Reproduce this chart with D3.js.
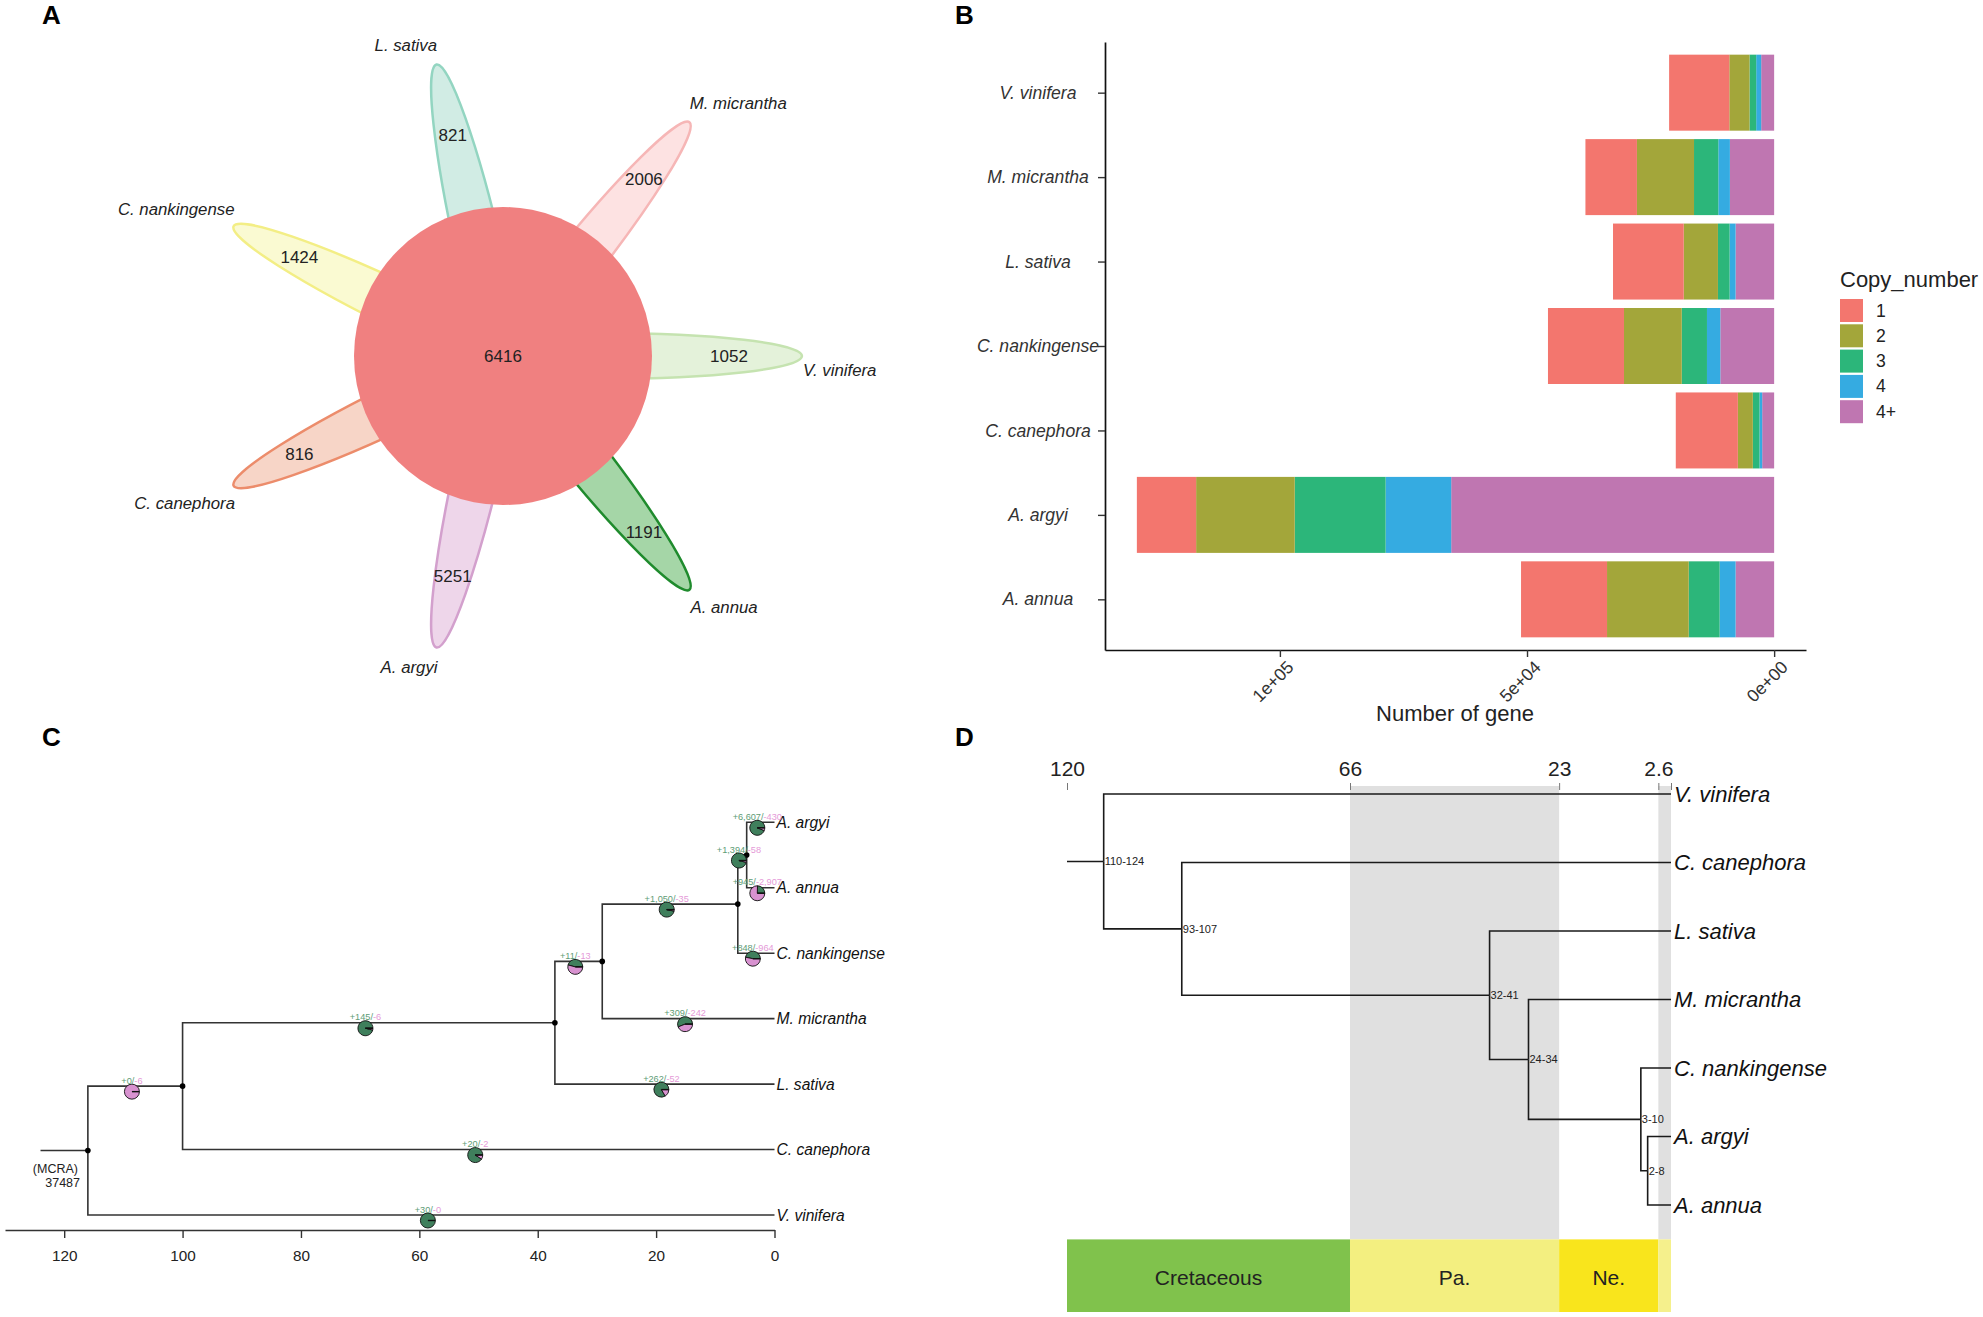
<!DOCTYPE html>
<html>
<head>
<meta charset="utf-8">
<script src="https://cdn.jsdelivr.net/npm/d3@7"></script>
<style>
  body { margin: 0; background: #fff; }
  svg { display: block; font-family: "Liberation Sans", Arial, sans-serif; }
</style>
</head>
<body>
<div id="chart"></div>
<script>
// ---- data ----
const species = ["V. vinifera", "M. micrantha", "L. sativa", "C. nankingense", "C. canephora", "A. argyi", "A. annua"];

// A: flower plot
const uniqueGenes = [1052, 2006, 821, 1424, 816, 5251, 1191];
const coreGenes = 6416;

// B: copy number per species
const copyLevels = ["1", "2", "3", "4", "4+"];
const copy1  = [12180, 10420, 14310, 15380, 12560, 11990, 17400];
const copy2  = [4090, 11550, 6920, 11690, 3030, 19950, 16530];
const copy3  = [1350, 4920, 2360, 5100, 1350, 18390, 6250];
const copy4  = [1010, 2340, 1210, 2700, 540, 13270, 3230];
const copy4p = [2620, 8950, 7800, 10890, 2420, 65340, 7800];
const xTicksB = [0, 50000, 100000];

// C: gene family expansion / contraction tree
const tipOrderC = ["A. argyi", "A. annua", "C. nankingense", "M. micrantha", "L. sativa", "C. canephora", "V. vinifera"];
const nodeAgeC = { root: 116, n1: 100, n2: 37.1, n3: 29.1, n4: 6.2, n5: 4.7 };
const edgesC = [["root", "V. vinifera"], ["root", "n1"], ["n1", "C. canephora"], ["n1", "n2"],
  ["n2", "L. sativa"], ["n2", "n3"], ["n3", "M. micrantha"], ["n3", "n4"],
  ["n4", "C. nankingense"], ["n4", "n5"], ["n5", "A. argyi"], ["n5", "A. annua"]];
const gainsC  = [30, 0, 20, 145, 262, 11, 309, 1050, 848, 1394, 6607, 945];
const lossesC = [0, 6, 2, 6, 52, 13, 242, 35, 964, 58, 430, 2907];
const mrcaC = 37487;
const xTicksC = [120, 100, 80, 60, 40, 20, 0];

// D: divergence time tree
const tipOrderD = ["V. vinifera", "C. canephora", "L. sativa", "M. micrantha", "C. nankingense", "A. argyi", "A. annua"];
const nodeAgeD = { root: 113, n2: 98.1, n3: 37.3, n4: 29.3, n5: 6.2, n6: 4.8 };
const nodeRangeD = { root: "110-124", n2: "93-107", n3: "32-41", n4: "24-34", n5: "3-10", n6: "2-8" };
const edgesD = [["root", "V. vinifera"], ["root", "n2"], ["n2", "C. canephora"], ["n2", "n3"],
  ["n3", "L. sativa"], ["n3", "n4"], ["n4", "M. micrantha"], ["n4", "n5"],
  ["n5", "C. nankingense"], ["n5", "n6"], ["n6", "A. argyi"], ["n6", "A. annua"]];
const geoTicks = [120, 66, 23, 2.6, 0];
const eraNames = ["Cretaceous", "Pa.", "Ne.", ""];
const eraBounds = [120, 66, 23, 2.6, 0];

// ---- canvas ----
const W = 1983, H = 1317;
const svg = d3.select("#chart").append("svg")
  .attr("width", W).attr("height", H)
  .style("background", "#fff");

// panel letters
[["A", 42, 24], ["B", 955, 24], ["C", 42, 746], ["D", 955, 746]].forEach(([t, x, y]) => {
  svg.append("text").attr("x", x).attr("y", y)
    .attr("font-size", 26).attr("font-weight", "bold").text(t);
});

// ================= Panel A =================
const petalFill   = ["#e4f2da", "#fde2e2", "#d1ece4", "#fafad2", "#f7d5c7", "#eed6ea", "#a5d6a7"];
const petalStroke = ["#c5e3b0", "#f6b6b6", "#93d5c1", "#f3ee85", "#ec8c6b", "#d3a0cd", "#1f8b2d"];
// label placement: [angle clockwise from top, radius]
const labelPolar = {
  "V. vinifera": [92.4, 337], "M. micrantha": [43, 345], "L. sativa": [-17.4, 325],
  "C. nankingense": [294.1, 358], "C. canephora": [245.1, 351], "A. argyi": [196.8, 325], "A. annua": [138.7, 335]
};
const cx = 503, cy = 356;
const gA = svg.append("g");
species.forEach((s, i) => {
  const th = i * 2 * Math.PI / species.length;
  const ex = cx + 100 * Math.cos(th), ey = cy - 100 * Math.sin(th);
  gA.append("ellipse")
    .attr("cx", ex).attr("cy", ey).attr("rx", 199).attr("ry", 23)
    .attr("transform", `rotate(${-th * 180 / Math.PI},${ex},${ey})`)
    .attr("fill", petalFill[i]).attr("stroke", petalStroke[i]).attr("stroke-width", 2.5);
});
gA.append("circle").attr("cx", cx).attr("cy", cy).attr("r", 149).attr("fill", "#f08080");
gA.append("text").attr("x", cx).attr("y", cy).attr("text-anchor", "middle")
  .attr("dominant-baseline", "central").attr("font-size", 17).attr("fill", "#222").text(coreGenes);
species.forEach((s, i) => {
  const th = i * 2 * Math.PI / species.length;
  gA.append("text")
    .attr("x", cx + 226 * Math.cos(th)).attr("y", cy - 226 * Math.sin(th))
    .attr("text-anchor", "middle").attr("dominant-baseline", "central")
    .attr("font-size", 17).attr("fill", "#222").text(uniqueGenes[i]);
  const [a, r] = labelPolar[s];
  const ar = a * Math.PI / 180;
  gA.append("text")
    .attr("x", cx + r * Math.sin(ar)).attr("y", cy - r * Math.cos(ar))
    .attr("text-anchor", "middle").attr("dominant-baseline", "central")
    .attr("font-size", 16.8).attr("font-style", "italic").attr("fill", "#222").text(s);
});

// ================= Panel B =================
const copyColor = { "1": "#f3766e", "2": "#a3a63a", "3": "#2cb67a", "4": "#35abe1", "4+": "#bf76b1" };
const rowsB = species.map((s, i) => ({ sp: s, "1": copy1[i], "2": copy2[i], "3": copy3[i], "4": copy4[i], "4+": copy4p[i] }));
const stackKeys = copyLevels.slice().reverse();
const stacked = d3.stack().keys(stackKeys)(rowsB);
const maxB = d3.max(rowsB, r => d3.sum(copyLevels, k => r[k]));
const padB = maxB * 0.05;
const xB = d3.scaleLinear().domain([-padB, maxB + padB]).range([1806, 1105]);
const yB = d3.scalePoint().domain(species).range([42, 650]).padding(0.6);
const barH = yB.step() * 0.9;

const gB = svg.append("g");
stacked.forEach(layer => {
  gB.selectAll(null).data(layer).enter().append("rect")
    .attr("x", d => xB(d[1]))
    .attr("y", d => yB(d.data.sp) - barH / 2)
    .attr("width", d => xB(d[0]) - xB(d[1]))
    .attr("height", barH)
    .attr("fill", copyColor[layer.key]);
});

const sciFmt = v => v === 0 ? "0e+00" : d3.format(".0e")(v).replace(/e\+(\d)$/, "e+0$1");
const axYB = gB.append("g").attr("transform", "translate(1105,0)")
  .call(d3.axisLeft(yB).tickSize(7).tickSizeOuter(0).tickPadding(5));
const axXB = gB.append("g").attr("transform", "translate(0,650)")
  .call(d3.axisBottom(xB).tickValues(xTicksB).tickFormat(sciFmt).tickSize(7).tickSizeOuter(0));
[axYB, axXB].forEach(ax => {
  ax.attr("font-family", null).attr("font-size", null);
  ax.select(".domain").attr("stroke", "#111").attr("stroke-width", 1.7);
  ax.selectAll(".tick line").attr("stroke", "#333").attr("stroke-width", 1.4);
  ax.selectAll("text").attr("font-size", 17.6).attr("fill", "#333");
});
// species names are centred (hjust 0.5) left of the axis
axYB.selectAll("text").attr("font-style", "italic").attr("text-anchor", "middle").attr("x", -67);
axXB.selectAll("text")
  .attr("x", 0).attr("y", 0).attr("dy", "0.75em")
  .attr("text-anchor", "end")
  .attr("transform", "translate(5,9) rotate(-45)");
gB.append("text").attr("x", 1455).attr("y", 721).attr("text-anchor", "middle")
  .attr("font-size", 22).attr("fill", "#222").text("Number of gene");

// legend
const gL = gB.append("g").attr("transform", "translate(1840,0)");
gL.append("text").attr("x", 0).attr("y", 287).attr("font-size", 22).attr("fill", "#222").text("Copy_number");
copyLevels.forEach((k, i) => {
  gL.append("rect").attr("x", 0).attr("y", 299 + i * 25.3).attr("width", 23).attr("height", 23)
    .attr("fill", copyColor[k]);
  gL.append("text").attr("x", 36).attr("y", 299 + i * 25.3 + 11.5).attr("dominant-baseline", "central")
    .attr("font-size", 17.6).attr("fill", "#222").text(k);
});

// ---- tree helpers ----
function buildTree(edges, tipScale, ageMap) {
  const kids = {};
  edges.forEach(([p, c]) => { (kids[p] = kids[p] || []).push(c); });
  const yOf = n => kids[n] ? d3.mean(kids[n], yOf) : tipScale(n);
  const age = n => ageMap[n] !== undefined ? ageMap[n] : 0;
  return { kids, yOf, age };
}

// ================= Panel C =================
const xC = d3.scaleLinear().domain([130, 0]).range([5, 774.5]);
const yC = d3.scalePoint().domain(tipOrderC).range([822.3, 1215]);
const tC = buildTree(edgesC, yC, nodeAgeC);
const gC = svg.append("g");
const lineColC = "#333";

gC.append("line")
  .attr("x1", xC(124)).attr("x2", xC(nodeAgeC.root))
  .attr("y1", tC.yOf("root")).attr("y2", tC.yOf("root"))
  .attr("stroke", lineColC).attr("stroke-width", 1.6);
edgesC.forEach(([p, c]) => {
  const px = xC(tC.age(p)), py = tC.yOf(p), chx = xC(tC.age(c)), chy = tC.yOf(c);
  gC.append("path").attr("d", `M${px},${py}V${chy}H${chx}`)
    .attr("fill", "none").attr("stroke", lineColC).attr("stroke-width", 1.6);
});
Object.keys(nodeAgeC).forEach(n => {
  gC.append("circle").attr("cx", xC(nodeAgeC[n])).attr("cy", tC.yOf(n)).attr("r", 2.8).attr("fill", "#000");
});
tipOrderC.forEach(s => {
  gC.append("text").attr("x", xC(0) + 2).attr("y", yC(s)).attr("dominant-baseline", "central")
    .attr("font-size", 15.6).attr("font-style", "italic").attr("fill", "#111").text(s);
});

// pies on branches
const gainCol = "#3f7f5c", lossCol = "#d892d0";
const pieR = 7.5;
const arc = d3.arc().innerRadius(0).outerRadius(pieR);
const fmtN = d3.format(",");
edgesC.forEach(([p, c], i) => {
  const g = gainsC[i], l = lossesC[i];
  const frac = g / (g + l);
  const mx = (xC(tC.age(p)) + xC(tC.age(c))) / 2 - 3.3;
  const by = tC.yOf(c);
  const pg = gC.append("g").attr("transform", `translate(${mx},${by + 5.5})`);
  const h = Math.PI / 2;
  if (frac > 0) pg.append("path").attr("d", arc({ startAngle: h - 2 * Math.PI * frac, endAngle: h }))
    .attr("fill", gainCol).attr("stroke", "#111").attr("stroke-width", 0.9);
  if (frac < 1) pg.append("path").attr("d", arc({ startAngle: h - 2 * Math.PI, endAngle: h - 2 * Math.PI * frac }))
    .attr("fill", lossCol).attr("stroke", "#111").attr("stroke-width", 0.9);
  pg.append("line").attr("x1", 0).attr("y1", 0).attr("x2", pieR).attr("y2", 0)
    .attr("stroke", "#111").attr("stroke-width", 1.4);
  const t = gC.append("text").attr("x", mx).attr("y", by - 2.5)
    .attr("text-anchor", "middle").attr("font-size", 9.2);
  t.append("tspan").attr("fill", "#5e9c75").text(`+${fmtN(g)}/`);
  t.append("tspan").attr("fill", "#e59ad8").text(`-${fmtN(l)}`);
});

gC.append("text").attr("x", 78).attr("y", 1168.5).attr("text-anchor", "end").attr("dominant-baseline", "central")
  .attr("font-size", 12.5).attr("fill", "#222").text("(MCRA)");
gC.append("text").attr("x", 80).attr("y", 1183).attr("text-anchor", "end").attr("dominant-baseline", "central")
  .attr("font-size", 12.5).attr("fill", "#222").text(mrcaC);

const axC = gC.append("g").attr("transform", "translate(0,1230)")
  .call(d3.axisBottom(xC).tickValues(xTicksC).tickSize(8).tickSizeOuter(0).tickPadding(12));
axC.attr("font-family", null).attr("font-size", null);
axC.select(".domain").attr("stroke", "#333").attr("stroke-width", 1.5);
axC.selectAll(".tick line").attr("stroke", "#333").attr("stroke-width", 1.4);
axC.selectAll("text").attr("font-size", 15.3).attr("fill", "#222");

// ================= Panel D =================
const xD = d3.scaleLinear().domain([120, 66, 0]).range([1067, 1350, 1671]);
const yD = d3.scalePoint().domain(tipOrderD).range([794, 1205]);
const tD = buildTree(edgesD, yD, nodeAgeD);
const gD = svg.append("g");
const eraColor = ["#80c24c", "#f3ef80", "#f9e51c", "#f5f08c"];

// grey epoch bands
[[66, 23], [2.6, 0]].forEach(([a, b]) => {
  gD.append("rect").attr("x", xD(a)).attr("y", 786).attr("width", xD(b) - xD(a)).attr("height", 1239.4 - 786)
    .attr("fill", "#e0e0e0");
});
// era bar
eraNames.forEach((n, i) => {
  const x0 = xD(eraBounds[i]), x1 = xD(eraBounds[i + 1]);
  gD.append("rect").attr("x", x0).attr("y", 1239.4).attr("width", x1 - x0).attr("height", 72.6)
    .attr("fill", eraColor[i]);
  if (n) gD.append("text").attr("x", (x0 + x1) / 2).attr("y", 1277).attr("text-anchor", "middle")
    .attr("dominant-baseline", "central").attr("font-size", 21).attr("fill", "#222").text(n);
});
// top axis
const axD = gD.append("g").attr("transform", "translate(0,790)")
  .call(d3.axisTop(xD).tickValues(geoTicks).tickSize(7).tickPadding(7).tickFormat(d => d === 0 ? "" : d));
axD.attr("font-family", null).attr("font-size", null);
axD.select(".domain").remove();
axD.selectAll(".tick line").attr("stroke", "#777").attr("stroke-width", 1);
axD.selectAll("text").attr("font-size", 21).attr("fill", "#222");

// tree
const lineColD = "#1a1a1a";
gD.append("line")
  .attr("x1", xD(120)).attr("x2", xD(nodeAgeD.root))
  .attr("y1", tD.yOf("root")).attr("y2", tD.yOf("root"))
  .attr("stroke", lineColD).attr("stroke-width", 1.6);
edgesD.forEach(([p, c]) => {
  const px = xD(tD.age(p)), py = tD.yOf(p), chx = xD(tD.age(c)), chy = tD.yOf(c);
  gD.append("path").attr("d", `M${px},${py}V${chy}H${chx}`)
    .attr("fill", "none").attr("stroke", lineColD).attr("stroke-width", 1.6);
});
Object.keys(nodeRangeD).forEach(n => {
  gD.append("text").attr("x", xD(nodeAgeD[n]) + 1).attr("y", tD.yOf(n)).attr("dominant-baseline", "central")
    .attr("font-size", 11).attr("fill", "#222").text(nodeRangeD[n]);
});
tipOrderD.forEach(s => {
  gD.append("text").attr("x", xD(0) + 3).attr("y", yD(s)).attr("dominant-baseline", "central")
    .attr("font-size", 22).attr("font-style", "italic").attr("fill", "#111").text(s);
});
</script>
</body>
</html>
